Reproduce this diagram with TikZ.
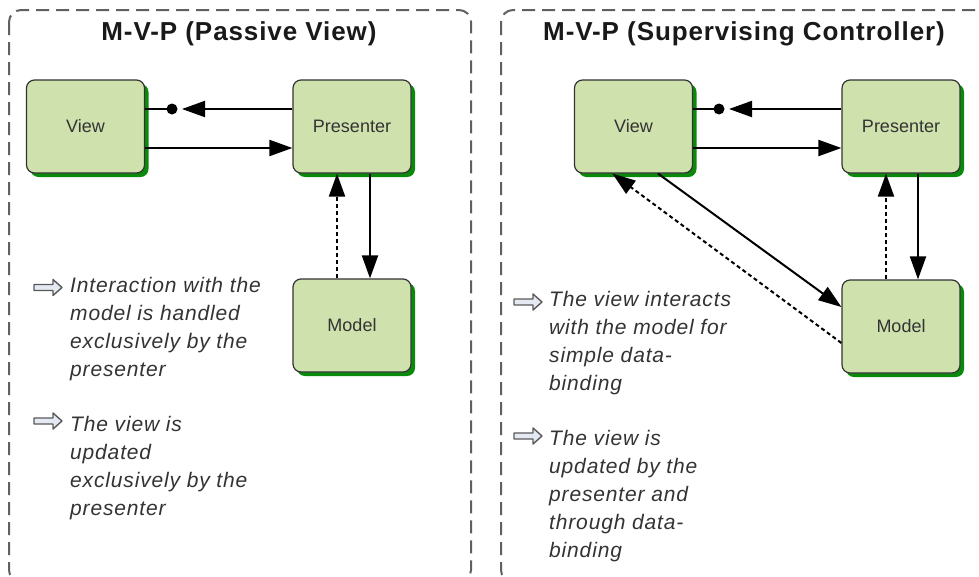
\documentclass[tikz,border=0pt]{standalone}
\usepackage{fontspec}
\setmainfont{Liberation Sans}
\newfontfamily\titlefont[LetterSpace=3.5]{Liberation Sans}
\newfontfamily\notefont[LetterSpace=4]{Liberation Sans}
\usetikzlibrary{arrows.meta,shadows}
\definecolor{boxfill}{HTML}{CFE2AE}
\definecolor{boxshadow}{HTML}{0A8A0A}
\definecolor{panelline}{HTML}{606060}
\definecolor{txt}{HTML}{333333}
\definecolor{bulfill}{HTML}{E4E9F2}
\begin{document}
\begin{tikzpicture}[x=1pt,y=-1pt,
 comp/.style={draw=txt, line width=1.2pt, rounded corners=8pt, fill=boxfill, minimum width=118pt, minimum height=93pt, inner sep=0pt, font=\fontsize{18}{20}\selectfont, text=txt, drop shadow={shadow xshift=4pt, shadow yshift=-4pt, fill=boxshadow, opacity=1}},
 panel/.style={draw=panelline, line width=2pt, dash pattern=on 13pt off 7pt, rounded corners=12pt},
 ttl/.style={font=\titlefont\bfseries\fontsize{26}{30}\selectfont, text=black!90},
 note/.style={anchor=north west, inner sep=0pt, align=left, font=\notefont\itshape\fontsize{21}{28}\selectfont, text=txt},
 link/.style={line width=2pt, draw=black},
 tip/.style={link, -{Triangle[length=23pt,width=16pt]}},
 dtip/.style={tip, dash pattern=on 4pt off 3pt},
 bul/.pic={\draw[draw=black!65, fill=bulfill, line width=1.4pt, line join=round] (0,-3) -- (19,-3) -- (19,-8) -- (28,0) -- (19,8) -- (19,3) -- (0,3) -- cycle;}
]
\useasboundingbox (0,0) rectangle (979,576);
\clip (0,0) rectangle (979,576);

% panels
\draw[panel] (9,10) rectangle (471,582);
\draw[panel] (501,10) rectangle (1000,582);

\node[ttl] (t1) at (239,34) {M-V-P (Passive View)};
\node[ttl] (t2) at (744,34) {M-V-P (Supervising Controller)};

% left panel
\node[comp] (lv) at (85.5,126.5) {View};
\node[comp] (lp) at (352,126.5) {Presenter};
\node[comp] (lm) at (352,325.5) {Model};
\coordinate (ld) at (172,109);
\draw[link] ([yshift=17.5pt]lv.east) -- (ld);
\fill (ld) circle (5.5pt);
\draw[tip] ([yshift=17.5pt]lp.west) -- ([xshift=10pt]ld);
\draw[tip] ([yshift=-21.5pt]lv.east) -- ([yshift=-21.5pt]lp.west);
\draw[dtip] ([xshift=-15pt]lm.north) -- ([xshift=-15pt]lp.south);
\draw[tip] ([xshift=18pt]lp.south) -- ([xshift=18pt]lm.north);

% right panel
\node[comp] (rv) at (633.5,126.5) {View};
\node[comp] (rp) at (901,126.5) {Presenter};
\node[comp] (rm) at (901,326.5) {Model};
\coordinate (rd) at (719,109);
\draw[link] ([yshift=17.5pt]rv.east) -- (rd);
\fill (rd) circle (5.5pt);
\draw[tip] ([yshift=17.5pt]rp.west) -- ([xshift=10pt]rd);
\draw[tip] ([yshift=-21.5pt]rv.east) -- ([yshift=-21.5pt]rp.west);
\draw[dtip] ([xshift=-15pt]rm.north) -- ([xshift=-15pt]rp.south);
\draw[tip] ([xshift=17pt]rp.south) -- ([xshift=17pt]rm.north);
\draw[tip] ([xshift=24.5pt]rv.south) -- ([yshift=19.5pt]rm.west);
\draw[dtip] ([yshift=-16.5pt]rm.west) -- ([xshift=-21pt]rv.south);

% notes
\pic at (34,287.5) {bul};
\node[note] (n1) at (70,277) {Interaction with the\\model is handled\\exclusively by the\\presenter};
\pic at (34,421) {bul};
\node[note] (n2) at (70,416) {The view is\\updated\\exclusively by the\\presenter};
\pic at (514,302) {bul};
\node[note] (n3) at (549,291) {The view interacts\\with the model for\\simple data-\\binding};
\pic at (514,436) {bul};
\node[note] (n4) at (549,430) {The view is\\updated by the\\presenter and\\through data-\\binding};
\end{tikzpicture}
\end{document}
